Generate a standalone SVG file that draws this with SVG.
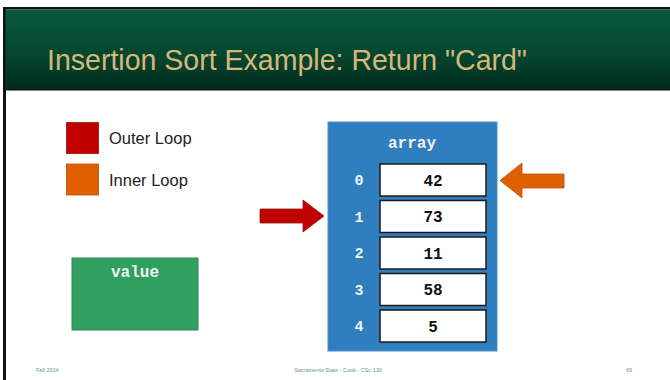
<svg xmlns="http://www.w3.org/2000/svg" width="670" height="380" viewBox="0 0 670 380">
  <defs>
    <linearGradient id="hdrGrad" x1="0" y1="0" x2="0" y2="1">
      <stop offset="0" stop-color="#075a3e"/>
      <stop offset="0.6" stop-color="#05452f"/>
      <stop offset="1" stop-color="#032a1c"/>
    </linearGradient>
  </defs>
  <style>
    .title { font-family: "Liberation Sans", Arial, sans-serif; font-size: 30px; fill: #d6b878; }
    .legend { font-family: "Liberation Sans", Arial, sans-serif; font-size: 16.5px; fill: #222222; }
    .mono { font-family: "Liberation Mono", "Courier New", monospace; font-weight: bold; }
    .hdr { font-size: 16px; fill: #f2f2f2; text-anchor: middle; }
    .idx { font-size: 15px; fill: #f2f2f2; text-anchor: middle; }
    .val { font-size: 16px; fill: #111111; text-anchor: middle; }
    .cell { fill: #ffffff; stroke: #1a1a1a; stroke-width: 1.5; }
    .foot { font-family: "Liberation Sans", Arial, sans-serif; font-size: 5.5px; fill: #5f9a88; }
  </style>

  <rect x="0" y="0" width="670" height="380" fill="#ffffff"/>

  <!-- slide frame and title bar -->
  <rect x="3" y="7" width="3" height="373" fill="#111111"/>
  <rect x="3" y="7" width="667" height="2.5" fill="#111111"/>
  <rect x="5.5" y="9.5" width="664.5" height="80" fill="url(#hdrGrad)"/>
  <rect x="5.5" y="89" width="664.5" height="1.5" fill="#0a1a12"/>
  <text class="title" x="47" y="70" textLength="480" lengthAdjust="spacingAndGlyphs">Insertion Sort Example: Return "Card"</text>

  <!-- legend -->
  <g id="legend-outer">
    <rect x="66.5" y="122.5" width="32" height="31" fill="#c00000" stroke="#a01010" stroke-width="0.8"/>
    <text class="legend" x="109" y="144">Outer Loop</text>
  </g>
  <g id="legend-inner">
    <rect x="66.5" y="164" width="32" height="31" fill="#e06000" stroke="#b85010" stroke-width="0.8"/>
    <text class="legend" x="109" y="186">Inner Loop</text>
  </g>

  <!-- value holder -->
  <g id="value">
    <rect x="72" y="258" width="126" height="72" fill="#30a060" stroke="#2a8a52" stroke-width="1"/>
    <text class="mono hdr" x="135" y="277">value</text>
  </g>

  <!-- array -->
  <g id="array">
    <rect x="328" y="122" width="169" height="229" fill="#2f7ebf" stroke="#4a90cc" stroke-width="1"/>
    <text class="mono hdr" x="412" y="148">array</text>
  </g>
  <g id="cell-0">
    <rect class="cell" x="380" y="164" width="106" height="32"/>
    <text class="mono idx" x="359" y="185">0</text>
    <text class="mono val" x="433" y="185.5">42</text>
  </g>
  <g id="cell-1">
    <rect class="cell" x="380" y="200.5" width="106" height="32"/>
    <text class="mono idx" x="359" y="221.5">1</text>
    <text class="mono val" x="433" y="222">73</text>
  </g>
  <g id="cell-2">
    <rect class="cell" x="380" y="237" width="106" height="32"/>
    <text class="mono idx" x="359" y="258">2</text>
    <text class="mono val" x="433" y="258.5">11</text>
  </g>
  <g id="cell-3">
    <rect class="cell" x="380" y="273.5" width="106" height="32"/>
    <text class="mono idx" x="359" y="294.5">3</text>
    <text class="mono val" x="433" y="295">58</text>
  </g>
  <g id="cell-4">
    <rect class="cell" x="380" y="310" width="106" height="32"/>
    <text class="mono idx" x="359" y="331">4</text>
    <text class="mono val" x="433" y="331.5">5</text>
  </g>

  <!-- loop pointers -->
  <g id="connectors">
    <polygon id="outer-pointer" points="260,209 303,209 303,200 324,216 303,232 303,223 260,223" fill="#c00000" stroke="#a01010" stroke-width="0.8"/>
    <polygon id="inner-pointer" points="564,174 522,174 522,163 500,180.5 522,198 522,188 564,188" fill="#e06000" stroke="#b85010" stroke-width="0.8"/>
  </g>

  <!-- footer -->
  <text class="foot" x="36" y="372">Fall 2024</text>
  <text class="foot" x="338" y="372" text-anchor="middle">Sacramento State - Cook - CSc 130</text>
  <text class="foot" x="629" y="372" text-anchor="middle">69</text>
</svg>
